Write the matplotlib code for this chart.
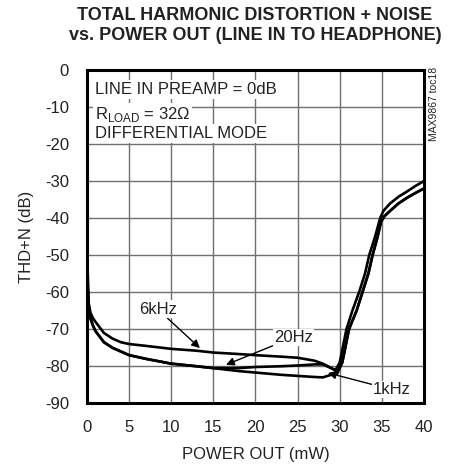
import matplotlib
matplotlib.use('Agg')
import matplotlib.pyplot as plt

plt.rcParams['font.family'] = ['Liberation Sans', 'DejaVu Sans']
plt.rcParams['axes.unicode_minus'] = False

# data
x_6k = [0.05, 0.1, 0.2, 0.4, 0.7, 1, 1.5, 2, 3, 4, 5, 7, 10, 13, 15, 18, 20, 23, 25, 27, 28, 29, 29.5,
        30, 30.8, 31.5, 32.3, 33, 33.5, 34.2, 34.8, 35.2, 36, 37, 38, 39, 40]
y_6k = [-50, -58, -63, -65.5, -67, -68, -69.5, -71, -72.5, -73.5, -74, -74.5, -75.3, -75.8, -76.3, -76.7, -77,
        -77.4, -77.7, -78.5, -79.3, -80.5, -81, -79, -70, -65, -60, -55, -50, -45, -40, -38, -36, -34.2, -32.8,
        -31.3, -30]

x_20 = [0.05, 0.1, 0.2, 0.4, 0.7, 1, 1.5, 2, 3, 4, 5, 7, 10, 13, 15, 18, 20, 23, 25, 27, 28, 29, 29.7,
        30.3, 31.1, 32, 32.7, 33.4, 33.9, 34.5, 34.9, 35.3, 36, 37, 38, 39, 40]
y_20 = [-50, -59, -64, -67, -69, -70.5, -72, -73.5, -75, -76, -77, -78, -79.3, -80, -80.5, -80.5, -80.2, -80,
        -79.8, -79.5, -79.5, -80.5, -81.5, -79, -70, -65, -60, -55, -50, -45, -41, -39.5, -38, -36, -34.5,
        -33.2, -32]

x_1k = [0.05, 0.1, 0.2, 0.4, 0.7, 1, 1.5, 2, 3, 4, 5, 7, 10, 13, 15, 18, 20, 23, 25, 27, 28, 29, 29.7,
        30.3, 31.1, 32, 32.7, 33.4, 33.9, 34.5, 34.9, 35.3, 36, 37, 38, 39, 40]
y_1k = [-50, -59, -64, -67, -69, -70.5, -72, -73.5, -75, -76, -77, -78, -79.3, -80, -80.5, -81.3, -81.7, -82.3,
        -82.6, -82.9, -83, -82.3, -82, -79, -70, -65, -60, -55, -50, -45, -41, -39.5, -38, -36, -34.5,
        -33.2, -32]

x_ticks = [0, 5, 10, 15, 20, 25, 30, 35, 40]
y_ticks = [0, -10, -20, -30, -40, -50, -60, -70, -80, -90]

fig = plt.figure(figsize=(4.51, 4.65), dpi=100)
ax = fig.add_axes([0.193, 0.1327, 0.747, 0.7168])

ax.plot(x_20, y_20, color='black', lw=1.9, zorder=3)
ax.plot(x_1k, y_1k, color='black', lw=1.9, zorder=3)
ax.plot(x_6k, y_6k, color='black', lw=1.9, zorder=3)

ax.set_xlim(0, 40)
ax.set_ylim(-90, 0)
ax.set_xticks(x_ticks)
ax.set_yticks(y_ticks)
ax.tick_params(length=0, labelsize=12, colors='#222222')
ax.tick_params(axis='x', pad=12)
ax.tick_params(axis='y', pad=13)
ax.grid(True, color='#707070', lw=1.0)
ax.set_axisbelow(True)
for s in ax.spines.values():
    s.set_linewidth(2.2)

ax.set_xlabel('POWER OUT (mW)', fontsize=12, color='#222222', labelpad=9)
ax.set_ylabel('THD+N (dB)', fontsize=12, color='#222222', labelpad=8)

fig.suptitle('TOTAL HARMONIC DISTORTION + NOISE\nvs. POWER OUT (LINE IN TO HEADPHONE)',
             fontsize=13, fontweight='bold', color='#222222', x=0.565, y=0.985, linespacing=1.2)

box = dict(facecolor='white', edgecolor='none', pad=1.5)
ax.text(0.9, -5.3, 'LINE IN PREAMP = 0dB', fontsize=12, va='center', color='#222222', bbox=box, zorder=2)
ax.text(0.9, -11.9, r'R$_{\mathregular{LOAD}}$ = 32Ω', fontsize=12, va='center', color='#222222', bbox=box, zorder=2)
ax.text(0.9, -17.2, 'DIFFERENTIAL MODE', fontsize=12, va='center', color='#222222', bbox=box, zorder=2)

fig.text(0.962, 0.856, 'MAX9867 toc18', rotation=90, fontsize=7.5, va='top', ha='center', color='#222222')

arrow = dict(arrowstyle='-|>', color='black', lw=1.0, mutation_scale=12, shrinkA=0, shrinkB=0)
lbl = dict(facecolor='white', edgecolor='none', pad=1)
ax.annotate('6kHz', xy=(13.4, -75.1), xytext=(8.4, -64.6), fontsize=12, ha='center', va='center',
            color='#222222', bbox=lbl, arrowprops=arrow, zorder=4)
ax.annotate('20Hz', xy=(16.5, -79.6), xytext=(24.5, -72.2), fontsize=12, ha='center', va='center',
            color='#222222', bbox=lbl, arrowprops=arrow, zorder=4)
ax.annotate('1kHz', xy=(28.6, -81.8), xytext=(36.2, -86.3), fontsize=12, ha='center', va='center',
            color='#222222', bbox=lbl, arrowprops=arrow, zorder=4)

fig.savefig('out.png', dpi=100)
